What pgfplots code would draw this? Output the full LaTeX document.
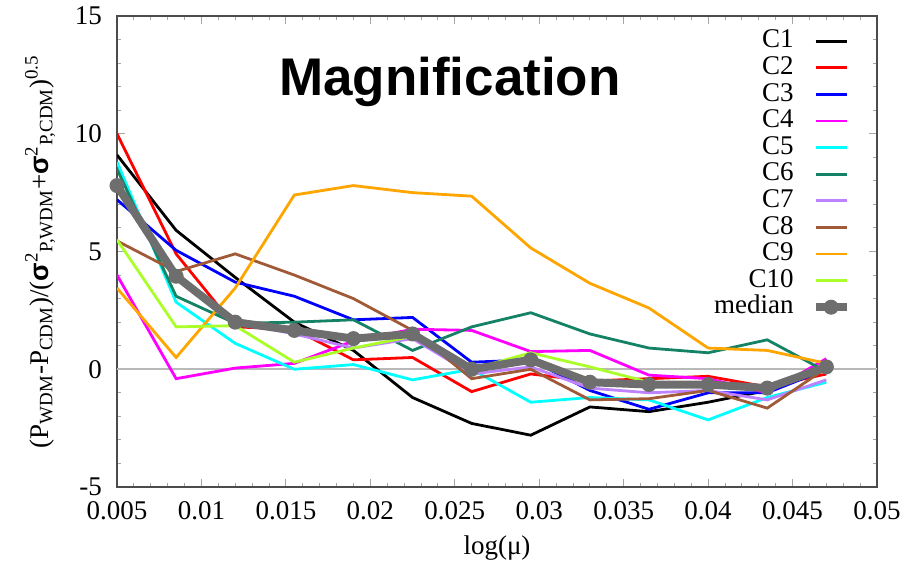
\documentclass[border=0pt]{standalone}
\usepackage{fontspec}
\setmainfont{Liberation Serif}
\setsansfont{Liberation Sans}
\usepackage{pgfplots}
\usepackage{pgfplotstable}
\pgfplotsset{compat=1.18}

\definecolor{cred}{RGB}{255,0,0}
\definecolor{cblue}{RGB}{0,0,255}
\definecolor{cmag}{RGB}{255,0,255}
\definecolor{ccyan}{RGB}{0,255,255}
\definecolor{cteal}{RGB}{20,130,100}
\definecolor{clav}{RGB}{190,130,255}
\definecolor{cbrown}{RGB}{160,90,55}
\definecolor{corange}{RGB}{255,165,0}
\definecolor{clime}{RGB}{170,255,40}
\definecolor{cmed}{RGB}{110,110,110}

\pgfplotstableread{
x      c1    c2    c3    c4    c5    c6    c7    c8    c9    c10   med
0.005  9.1   10.0  7.2   4.0   8.8   8.5   7.6   5.45  3.45  5.5   7.8
0.0085 5.9   4.9   5.05  -0.4  2.85  3.1   4.0   4.15  0.5   1.8   3.95
0.012  3.9   1.8   3.7   0.05  1.1   1.95  2.0   4.9   3.45  1.85  2.0
0.0155 2.0   1.7   3.1   0.25  0.0   2.0   1.5   4.0   7.4   0.3   1.65
0.019  0.8   0.4   2.1   1.2   0.2   2.1   0.9   3.0   7.8   0.9   1.3
0.0225 -1.2  0.5   2.2   1.7   -0.45 0.8   1.3   1.65  7.5   1.4   1.5
0.026  -2.3  -0.95 0.3   1.65  0.0   1.8   -0.2  -0.4  7.35  0.0   0.0
0.0295 -2.8  -0.2  0.4   0.75  -1.4  2.4   0.1   0.0   5.15  0.7   0.4
0.033  -1.6  -0.5  -0.9  0.8   -1.2  1.5   -0.8  -1.3  3.65  0.1   -0.55
0.0365 -1.8  -0.4  -1.7  -0.25 -1.3  0.9   -1.0  -1.25 2.6   -0.55 -0.65
0.04   -1.4  -0.3  -1.0  -0.4  -2.15 0.7   -0.9  -0.9  0.9   -0.6  -0.65
0.0435 -0.9  -0.75 -1.0  -1.0  -1.2  1.25  -1.3  -1.65 0.8   -0.8  -0.8
0.047  0.1   -0.2  0.0   0.45  -0.55 -0.1  -0.45 0.05  0.25  0.0   0.1
}\datatable

\begin{document}
\begin{tikzpicture}
\begin{axis}[
  scale only axis, width=380pt, height=235.5pt,
  xmin=0.005, xmax=0.05, ymin=-5, ymax=15,
  scaled x ticks=false, scaled y ticks=false,
  xtick={0.005,0.01,0.015,0.02,0.025,0.03,0.035,0.04,0.045,0.05},
  xticklabels={0.005,0.01,0.015,0.02,0.025,0.03,0.035,0.04,0.045,0.05},
  ytick={-5,0,5,10,15},
  yticklabels={-5,0,5,10,15},
  minor x tick num=4, minor y tick num=4,
  tick align=inside,
  major tick length=4pt, minor tick length=2pt,
  every tick/.style={gray!70, line width=0.5pt},
  axis line style={black!70, line width=0.7pt},
  font=\fontsize{13.5}{16}\selectfont,
  xticklabel style={yshift=-3.5pt},
  yticklabel style={xshift=-4pt},
  xlabel={log(μ)},
  xlabel style={at={(axis description cs:0.5,-0.13)}, anchor=center},
  ylabel={(P\textsubscript{WDM}-P\textsubscript{CDM})/({\sffamily\bfseries σ}\textsuperscript{2}\textsubscript{P,WDM}+{\sffamily\bfseries σ}\textsuperscript{2}\textsubscript{P,CDM})\textsuperscript{0.5}},
  ylabel style={at={(axis description cs:-0.101,0.5)}, anchor=center},
  legend style={draw=none, fill=none, at={(1,1)}, anchor=north east,
    xshift=-13pt, yshift=-5.5pt, inner sep=0pt, row sep=-0.5pt,
    nodes={inner sep=1pt, text height=9.2pt, text depth=2.6pt},
    font=\fontsize{13.5}{16}\selectfont},
  legend plot pos=right,
  legend cell align=right,
  legend image code/.code={\path (0pt,0pt); \draw[#1, mark repeat=2, mark phase=2] plot coordinates {(8pt,0pt) (15.75pt,0pt) (23.5pt,0pt)};},
  every axis plot/.append style={line width=1.4pt},
]
\addplot[gray!55, line width=1pt, forget plot] coordinates {(0.005,0) (0.05,0)};
\addplot[black] table[x=x,y=c1] {\datatable};\addlegendentry{C1}
\addplot[cred] table[x=x,y=c2] {\datatable};\addlegendentry{C2}
\addplot[cblue] table[x=x,y=c3] {\datatable};\addlegendentry{C3}
\addplot[cmag] table[x=x,y=c4] {\datatable};\addlegendentry{C4}
\addplot[ccyan] table[x=x,y=c5] {\datatable};\addlegendentry{C5}
\addplot[cteal] table[x=x,y=c6] {\datatable};\addlegendentry{C6}
\addplot[clav] table[x=x,y=c7] {\datatable};\addlegendentry{C7}
\addplot[cbrown] table[x=x,y=c8] {\datatable};\addlegendentry{C8}
\addplot[corange] table[x=x,y=c9] {\datatable};\addlegendentry{C9}
\addplot[clime] table[x=x,y=c10] {\datatable};\addlegendentry{C10}
\addplot[cmed, line width=4pt, mark=*, mark size=3.5pt, mark options={line width=0.5pt, fill=cmed}] table[x=x,y=med] {\datatable};\addlegendentry{median}
\node[font=\sffamily\bfseries\fontsize{26.5}{30}\selectfont] at (rel axis cs:0.438,0.86) {Magnification};
\coordinate (sw) at (rel axis cs:0,0);
\coordinate (ne) at (rel axis cs:1,1);
\end{axis}
\pgfresetboundingbox
\path (sw) ++(-58.5pt,-43.5pt) (ne) ++(15pt,8pt);
\end{tikzpicture}
\end{document}
